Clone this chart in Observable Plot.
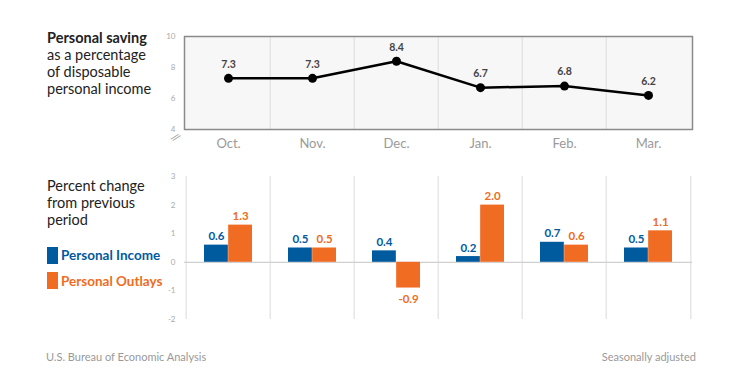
<!DOCTYPE html>
<html>
<head>
<meta charset="utf-8">
<script src="https://cdn.jsdelivr.net/npm/d3@7"></script>
<script src="https://cdn.jsdelivr.net/npm/@observablehq/plot@0.6"></script>
<style>
  html, body { margin: 0; padding: 0; background: #fff; }
  #wrap { position: relative; width: 739px; height: 388px; font-family: Lato, "Open Sans", sans-serif; overflow: hidden; }
  .abs { position: absolute; }
  .title { left: 47px; font-size: 14.5px; line-height: 17.1px; color: #222; }
  .legend { left: 47px; display: flex; align-items: center; font-size: 13.5px; font-weight: bold; }
  .sw { width: 11px; height: 17px; margin-right: 3px; }
  .foot { font-size: 11px; color: #999; line-height: 14px; }
  svg { overflow: visible; }
</style>
</head>
<body>
<div id="wrap">
  <div id="topChart" class="abs" style="left:0;top:0"></div>
  <div id="bottomChart" class="abs" style="left:0;top:160px"></div>
  <div class="abs title" style="top:28.8px"><b>Personal saving</b><br>as a percentage<br>of disposable<br>personal income</div>
  <div class="abs title" style="top:177px">Percent change<br>from previous<br>period</div>
  <div class="abs legend" style="top:246.5px;color:#005a9e"><div class="sw" style="background:#005a9e"></div>Personal Income</div>
  <div class="abs legend" style="top:272px;color:#ef6c22"><div class="sw" style="background:#ef6c22"></div>Personal Outlays</div>
  <div class="abs foot" style="left:46px;top:350px">U.S. Bureau of Economic Analysis</div>
  <div class="abs foot" style="right:43px;top:350px">Seasonally adjusted</div>
</div>
<script>
const months = ["Oct.", "Nov.", "Dec.", "Jan.", "Feb.", "Mar."];
const saving = [7.3, 7.3, 8.4, 6.7, 6.8, 6.2];
const income = [0.6, 0.5, 0.4, 0.2, 0.7, 0.5];
const outlays = [1.3, 0.5, -0.9, 2.0, 0.6, 1.1];
const savingTicks = [4, 6, 8, 10];
const changeTicks = [-2, -1, 0, 1, 2, 3];

const BLUE = "#005a9e", ORANGE = "#ef6c22";
const W = 739, ML = 184, MR = 47;
const step = (W - ML - MR) / months.length;

const savingData = months.map((m, i) => ({month: m, value: saving[i]}));
const incomeData = months.map((m, i) => ({month: m, value: income[i]}));
const outlayData = months.map((m, i) => ({month: m, value: outlays[i]}));

const topPlot = Plot.plot({
  width: W, height: 160,
  marginLeft: ML, marginRight: MR, marginTop: 36, marginBottom: 31,
  style: {fontFamily: "Lato, sans-serif", background: "transparent"},
  x: {type: "point", domain: months, padding: 0.5, label: null},
  y: {domain: [4, 10], label: null},
  marks: [
    Plot.frame({fill: "#f7f7f7", stroke: null}),
    Plot.ruleX(months.slice(1), {x: d => d, dx: -step / 2, stroke: "#dcdcdc", strokeWidth: 1}),
    Plot.frame({stroke: "#8a8a8a", strokeWidth: 1.5}),
    Plot.axisX({tickSize: 0, tickPadding: 9, fontSize: 13, fill: "#9a9a9a", label: null}),
    Plot.axisY({ticks: savingTicks, tickSize: 0, tickPadding: 9, fontSize: 8, fill: "#aaa", label: null, tickFormat: d => String(d)}),
    Plot.text([savingTicks[0]], {y: d => d, frameAnchor: "left", dx: -12, dy: 6, text: () => "//", rotate: 35, fontSize: 11, fill: "#999"}),
    Plot.line(savingData, {x: "month", y: "value", stroke: "#000", strokeWidth: 2.5}),
    Plot.dot(savingData, {x: "month", y: "value", r: 4.5, fill: "#000"}),
    Plot.text(savingData, {x: "month", y: "value", text: d => d.value.toFixed(1), dy: -14, fontSize: 10.5, fontWeight: "bold", fill: "#444"})
  ]
});
document.getElementById("topChart").appendChild(topPlot);

const off = step / 2 - 18 - 12.25;
const bottomPlot = Plot.plot({
  width: W, height: 170,
  marginLeft: ML, marginRight: MR, marginTop: 16, marginBottom: 11,
  style: {fontFamily: "Lato, sans-serif", background: "transparent"},
  x: {type: "band", domain: months, padding: 0, label: null, axis: null},
  y: {domain: [-2, 3], label: null},
  marks: [
    Plot.ruleX(months, {x: d => d, dx: -step / 2, stroke: "#e0e0e0", strokeWidth: 1.2}),
    Plot.ruleX(months.slice(-1), {x: d => d, dx: step / 2, stroke: "#e0e0e0", strokeWidth: 1.2}),
    Plot.ruleY([0], {stroke: "#d0d0d0", strokeWidth: 1.2}),
    Plot.axisY({ticks: changeTicks, tickSize: 0, tickPadding: 9, fontSize: 8, fill: "#aaa", label: null, tickFormat: d => String(d)}),
    Plot.barY(incomeData, {x: "month", y: "value", fill: BLUE, insetLeft: 18, insetRight: step - 18 - 24.5}),
    Plot.barY(outlayData, {x: "month", y: "value", fill: ORANGE, insetLeft: step - 18 - 24.5, insetRight: 18}),
    Plot.text(incomeData, {x: "month", y: "value", text: d => d.value.toFixed(1), dx: -off, lineAnchor: "bottom", dy: -5, fontSize: 11.5, fontWeight: "bold", fill: BLUE}),
    Plot.text(outlayData.filter(d => d.value >= 0), {x: "month", y: "value", text: d => d.value.toFixed(1), dx: off, lineAnchor: "bottom", dy: -5, fontSize: 11.5, fontWeight: "bold", fill: ORANGE}),
    Plot.text(outlayData.filter(d => d.value < 0), {x: "month", y: "value", text: d => d.value.toFixed(1), dx: off, lineAnchor: "top", dy: 7, fontSize: 11.5, fontWeight: "bold", fill: ORANGE})
  ]
});
document.getElementById("bottomChart").appendChild(bottomPlot);
</script>
</body>
</html>
